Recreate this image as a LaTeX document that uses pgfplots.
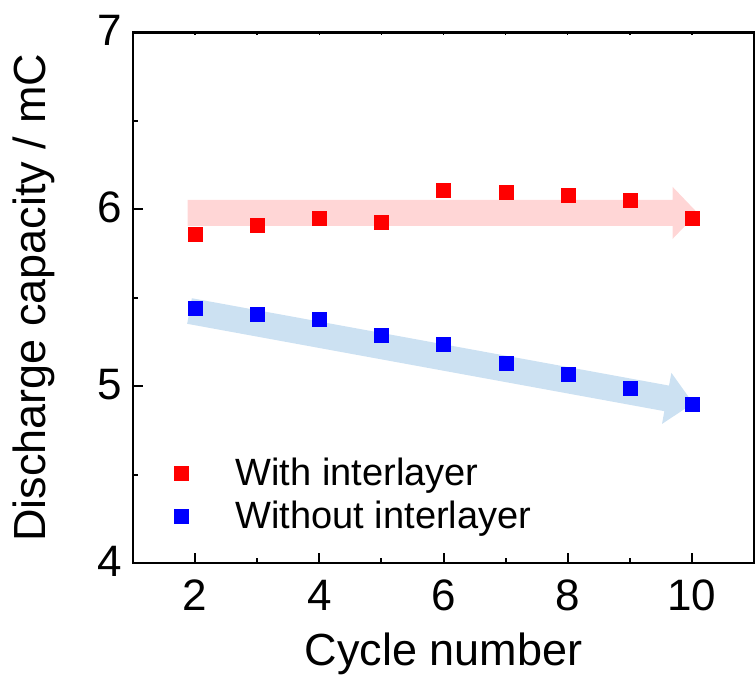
\documentclass[border=0pt]{standalone}
\usepackage{fontspec}
\setmainfont{Liberation Sans}
\usepackage{pgfplots}
\pgfplotsset{compat=1.18}

\definecolor{bandRed}{HTML}{FFD6D6}
\definecolor{bandBlue}{HTML}{CCE1F2}

\begin{document}
\begin{tikzpicture}
\begin{axis}[
    name=ax,
    scale only axis,
    width=621pt, height=530.5pt,
    xmin=1, xmax=11, ymin=4, ymax=7,
    xtick={2,4,...,10}, minor xtick={3,5,7,9},
    ytick={4,5,6,7}, minor ytick={4.5,5.5,6.5},
    xtick pos=bottom, ytick pos=left,
    tick align=inside,
    major tick length=10pt, minor tick length=5pt,
    axis line style={line width=2.4pt},
    every tick/.style={line width=2pt, black},
    /pgf/number format/assume math mode=true,
    ticklabel style={font=\fontsize{44}{50}\selectfont},
    xticklabel style={inner sep=0pt, yshift=-17pt},
    yticklabel style={inner sep=0pt, xshift=-11pt, yshift=2pt},
    xlabel={Cycle number},
    ylabel={Discharge capacity / mC},
    label style={font=\fontsize{45}{52}\selectfont, inner sep=0pt},
    xlabel style={at={(axis description cs:0.5,-0.132)}, anchor=north},
    ylabel style={at={(axis description cs:-0.1256,0.5)}, anchor=south},
    legend style={draw=none, fill=none, at={(0.0652,0.198)}, anchor=north west,
        font=\fontsize{38}{44}\selectfont, inner sep=0pt, row sep=14pt,
        column sep=0pt, nodes={inner sep=0pt}},
    legend cell align=left,
    legend image code/.code={\draw[#1] plot coordinates {(7pt,0pt)};
        \path (0pt,0pt) (61.5pt,0pt);},
]
% trend arrows
\fill[bandRed] ([yshift=13pt]axis cs:1.88,5.98) -- ([yshift=13pt]axis cs:9.69,5.98)
    -- ([yshift=26pt]axis cs:9.69,5.98) -- (axis cs:10.09,5.98)
    -- ([yshift=-26pt]axis cs:9.69,5.98) -- ([yshift=-13pt]axis cs:9.69,5.98)
    -- ([yshift=-13pt]axis cs:1.88,5.98) -- cycle;
\fill[bandBlue] ([shift={(2.34pt,12.79pt)}]axis cs:1.91,5.425)
    -- ([shift={(2.34pt,12.79pt)}]axis cs:9.594,4.931)
    -- ([shift={(4.69pt,25.57pt)}]axis cs:9.594,4.931)
    -- (axis cs:10.02,4.903)
    -- ([shift={(-4.69pt,-25.57pt)}]axis cs:9.594,4.931)
    -- ([shift={(-2.34pt,-12.79pt)}]axis cs:9.594,4.931)
    -- ([shift={(-2.34pt,-12.79pt)}]axis cs:1.91,5.425) -- cycle;

\addplot[red, only marks, mark=square*, mark size=7pt, mark options={solid, draw=red, fill=red, line width=0.1pt}]
    coordinates {(2,5.86) (3,5.91) (4,5.95) (5,5.93) (6,6.11) (7,6.10) (8,6.08) (9,6.05) (10,5.95)};
\addlegendentry{With interlayer}
\addplot[blue, only marks, mark=square*, mark size=7pt, mark options={solid, draw=blue, fill=blue, line width=0.1pt}]
    coordinates {(2,5.44) (3,5.41) (4,5.38) (5,5.29) (6,5.24) (7,5.13) (8,5.07) (9,4.99) (10,4.90)};
\addlegendentry{Without interlayer}
\end{axis}

% small ticks along the top edge
\begin{axis}[
    scale only axis,
    width=621pt, height=530.5pt,
    xmin=1, xmax=11, ymin=4, ymax=7,
    axis line style={draw=none},
    xtick={2,3,...,10}, xticklabels={},
    ytick=\empty,
    xtick pos=top, tick align=inside,
    major tick length=3pt,
    every tick/.style={line width=1.5pt, black},
]
\end{axis}

\pgfresetboundingbox
\path[use as bounding box] ([shift={(-133pt,-114pt)}]ax.south west)
    rectangle ([shift={(2pt,32.5pt)}]ax.north east);
\end{tikzpicture}
\end{document}
